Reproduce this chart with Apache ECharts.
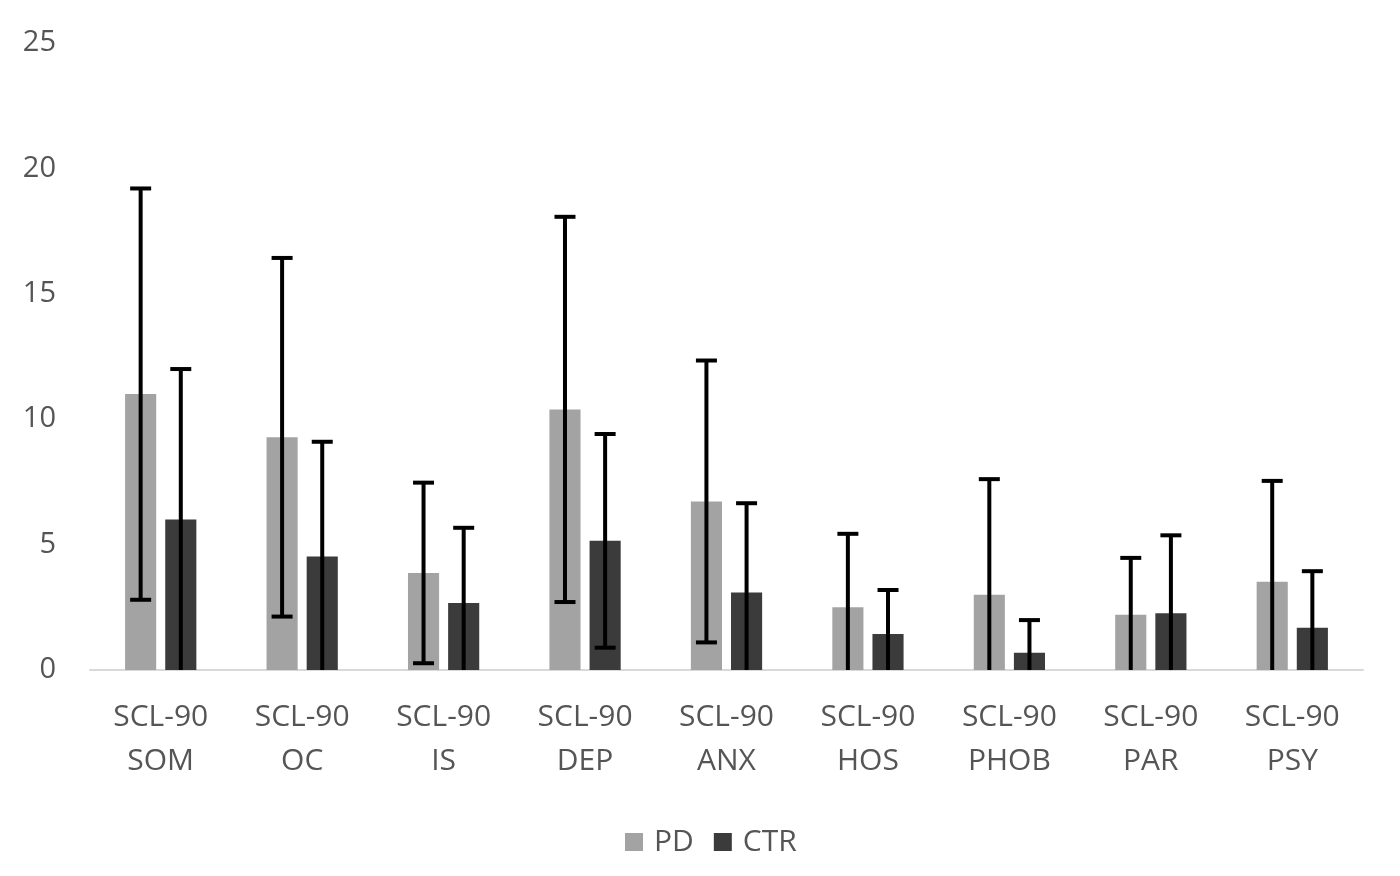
<!DOCTYPE html>
<html>
<head>
<meta charset="utf-8">
<title>SCL-90</title>
<script src="https://cdn.jsdelivr.net/npm/echarts@6/dist/echarts.min.js"></script>
<style>
  html, body { margin: 0; padding: 0; background: #fff; }
  #chart { width: 1400px; height: 876px; }
</style>
</head>
<body>
<div id="chart"></div>
<script>
// 分类与数值（从图上读取的均值和标准差）
const categories = ['SCL-90\nSOM', 'SCL-90\nOC', 'SCL-90\nIS', 'SCL-90\nDEP', 'SCL-90\nANX',
                    'SCL-90\nHOS', 'SCL-90\nPHOB', 'SCL-90\nPAR', 'SCL-90\nPSY'];
const pdMean  = [11.0, 9.28, 3.87, 10.39, 6.72, 2.5, 3.0, 2.2, 3.52];
const pdSd    = [8.2, 7.15, 3.6, 7.68, 5.62, 2.93, 4.61, 2.27, 4.02];
const ctrMean = [6.0, 4.53, 2.67, 5.15, 3.09, 1.44, 0.69, 2.26, 1.68];
const ctrSd   = [6.0, 4.57, 3.0, 4.26, 3.56, 1.75, 1.3, 3.11, 2.26];
const yTicks  = [0, 5, 10, 15, 20, 25];

const BAR_W = 0.22;   // 柱宽占类目宽度比例
const BAR_GAP = 0.29; // 两柱间距占柱宽比例
const textColor = '#555555';
const font = '"Open Sans", "Noto Sans", sans-serif';

// 误差线
function errorRenderer(sign) {
    return function (params, api) {
        const idx = api.value(0);
        const mean = api.value(1);
        const sd = api.value(2);
        const band = api.size([1, 0])[0];
        const barW = band * BAR_W;
        const dx = sign * (barW + barW * BAR_GAP) / 2;
        const low = Math.max(0, mean - sd);
        const top = api.coord([idx, mean + sd]);
        const bot = api.coord([idx, low]);
        const x = top[0] + dx;
        const capHalf = 10.5;
        const style = { stroke: '#000', lineWidth: 4 };
        const children = [
            { type: 'line', shape: { x1: x, y1: top[1], x2: x, y2: bot[1] }, style: style },
            { type: 'line', shape: { x1: x - capHalf, y1: top[1], x2: x + capHalf, y2: top[1] }, style: style }
        ];
        if (mean - sd > 0) {
            children.push({ type: 'line', shape: { x1: x - capHalf, y1: bot[1], x2: x + capHalf, y2: bot[1] }, style: style });
        }
        return { type: 'group', children: children };
    };
}

const chart = echarts.init(document.getElementById('chart'));
chart.setOption({
    animation: false,
    backgroundColor: '#fff',
    textStyle: { fontFamily: font },
    grid: { left: 90, right: 37, top: 43, bottom: 206 },
    legend: {
        data: ['PD', 'CTR'],
        left: 620,
        top: 822,
        icon: 'rect',
        itemWidth: 18,
        itemHeight: 18,
        itemGap: 20,
        textStyle: { color: textColor, fontSize: 30, fontFamily: font, padding: [0, 0, 0, 6] }
    },
    xAxis: {
        type: 'category',
        data: categories,
        axisLine: { lineStyle: { color: '#d9d9d9', width: 2 } },
        axisTick: { show: false },
        axisLabel: { color: textColor, fontSize: 30, lineHeight: 44, margin: 25, fontFamily: font }
    },
    yAxis: {
        type: 'value',
        min: yTicks[0],
        max: yTicks[yTicks.length - 1],
        interval: 5,
        splitLine: { show: false },
        axisLine: { show: false },
        axisTick: { show: false },
        axisLabel: { color: textColor, fontSize: 29, margin: 34, fontFamily: font }
    },
    series: [
        {
            name: 'PD', type: 'bar', data: pdMean,
            barWidth: (BAR_W * 100) + '%', barGap: (BAR_GAP * 100) + '%',
            itemStyle: { color: '#a3a3a3' }
        },
        {
            name: 'CTR', type: 'bar', data: ctrMean,
            barWidth: (BAR_W * 100) + '%', barGap: (BAR_GAP * 100) + '%',
            itemStyle: { color: '#3b3b3b' }
        },
        {
            type: 'custom', z: 10,
            renderItem: errorRenderer(-1),
            data: pdMean.map((m, i) => [i, m, pdSd[i]]),
            encode: { x: 0, y: 1 }
        },
        {
            type: 'custom', z: 10,
            renderItem: errorRenderer(1),
            data: ctrMean.map((m, i) => [i, m, ctrSd[i]]),
            encode: { x: 0, y: 1 }
        }
    ]
});
</script>
</body>
</html>
